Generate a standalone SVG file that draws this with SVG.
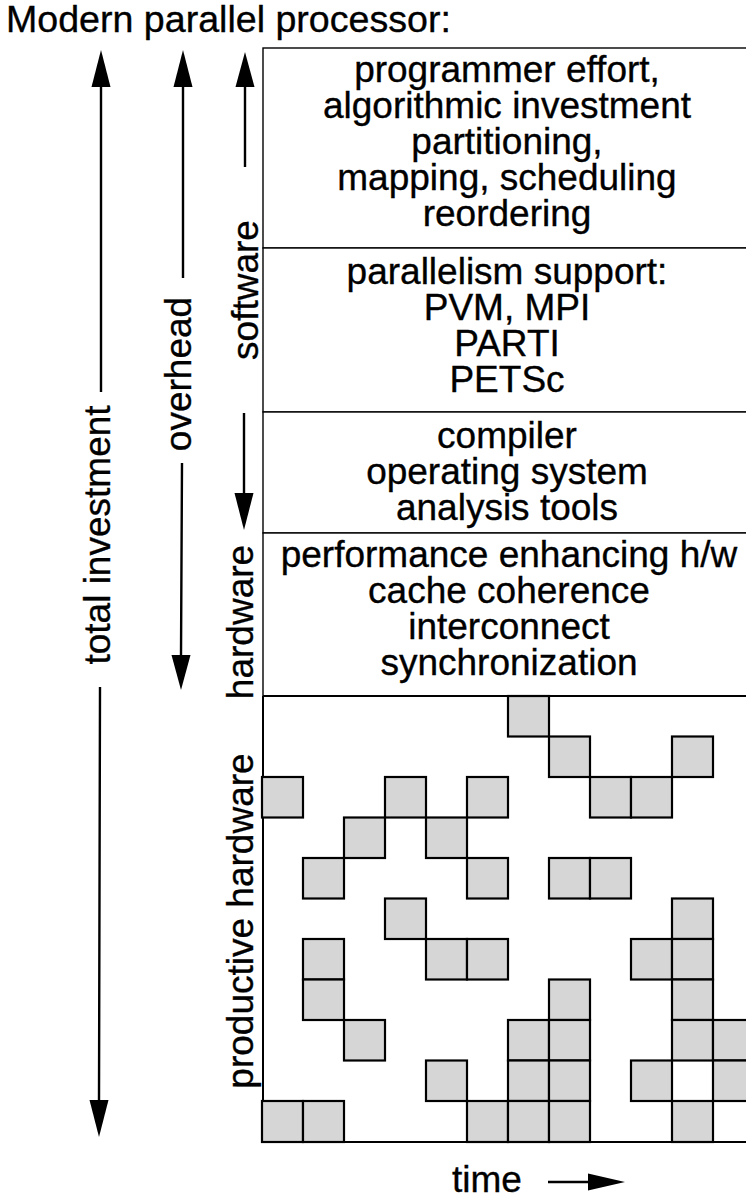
<svg xmlns="http://www.w3.org/2000/svg" width="746" height="1197" viewBox="0 0 746 1197">
  <defs>
    <style>
      text { font-family: "Liberation Sans", Arial, Helvetica, sans-serif; font-size: 37px; fill: #000; stroke: #000; stroke-width: 0.35; }
      .c { text-anchor: middle; }
      .box { fill: #fff; stroke: #000; stroke-width: 1.4; }
      .cell { fill: #d6d6d6; stroke: #000; stroke-width: 2.2; }
      .axis { stroke: #000; stroke-width: 2; fill: none; }
      .shaft { stroke: #000; stroke-width: 2.4; fill: none; }
      .head { fill: #000; stroke: none; }
    </style>
  </defs>

  <rect width="746" height="1197" fill="#fff"/>

  <!-- title -->
  <text id="title" x="6" y="32" style="font-size:37.6px">Modern parallel processor:</text>

  <!-- layered cost breakdown -->
  <g id="box-programmer">
    <rect class="box" x="263" y="48" width="500" height="200"/>
    <text class="c" x="507" y="82">programmer effort,</text>
    <text class="c" x="507" y="118">algorithmic investment</text>
    <text class="c" x="507" y="154">partitioning,</text>
    <text class="c" x="507" y="190">mapping, scheduling</text>
    <text class="c" x="507" y="226">reordering</text>
  </g>
  <g id="box-parallelism">
    <rect class="box" x="263" y="248" width="500" height="164"/>
    <text class="c" x="507" y="284">parallelism support:</text>
    <text class="c" x="507" y="320">PVM, MPI</text>
    <text class="c" x="507" y="356">PARTI</text>
    <text class="c" x="507" y="392">PETSc</text>
  </g>
  <g id="box-system">
    <rect class="box" x="263" y="412" width="500" height="121"/>
    <text class="c" x="507" y="448">compiler</text>
    <text class="c" x="507" y="484">operating system</text>
    <text class="c" x="507" y="520">analysis tools</text>
  </g>
  <g id="box-hardware">
    <rect class="box" x="263" y="533" width="500" height="163"/>
    <text class="c" x="509" y="567">performance enhancing h/w</text>
    <text class="c" x="509" y="603">cache coherence</text>
    <text class="c" x="509" y="639">interconnect</text>
    <text class="c" x="509" y="675">synchronization</text>
  </g>

  <!-- productive hardware: busy cells over time -->
  <g id="productive-grid">
    <path class="axis" d="M263 696 L746 696 M263 696 L263 1142 L746 1142"/>
    <g id="cells">
      <!-- row 0 -->
      <rect class="cell" x="508" y="696" width="41" height="40.5"/>
      <!-- row 1 -->
      <rect class="cell" x="549" y="736.5" width="41" height="40.5"/>
      <rect class="cell" x="672" y="736.5" width="41" height="40.5"/>
      <!-- row 2 -->
      <rect class="cell" x="262" y="777" width="41" height="40.5"/>
      <rect class="cell" x="385" y="777" width="41" height="40.5"/>
      <rect class="cell" x="467" y="777" width="41" height="40.5"/>
      <rect class="cell" x="590" y="777" width="41" height="40.5"/>
      <rect class="cell" x="631" y="777" width="41" height="40.5"/>
      <!-- row 3 -->
      <rect class="cell" x="344" y="817.5" width="41" height="40.5"/>
      <rect class="cell" x="426" y="817.5" width="41" height="40.5"/>
      <!-- row 4 -->
      <rect class="cell" x="303" y="858" width="41" height="40.5"/>
      <rect class="cell" x="467" y="858" width="41" height="40.5"/>
      <rect class="cell" x="549" y="858" width="41" height="40.5"/>
      <rect class="cell" x="590" y="858" width="41" height="40.5"/>
      <!-- row 5 -->
      <rect class="cell" x="385" y="898.5" width="41" height="40.5"/>
      <rect class="cell" x="672" y="898.5" width="41" height="40.5"/>
      <!-- row 6 -->
      <rect class="cell" x="303" y="939" width="41" height="40.5"/>
      <rect class="cell" x="426" y="939" width="41" height="40.5"/>
      <rect class="cell" x="467" y="939" width="41" height="40.5"/>
      <rect class="cell" x="631" y="939" width="41" height="40.5"/>
      <rect class="cell" x="672" y="939" width="41" height="40.5"/>
      <!-- row 7 -->
      <rect class="cell" x="303" y="979.5" width="41" height="40.5"/>
      <rect class="cell" x="549" y="979.5" width="41" height="40.5"/>
      <rect class="cell" x="672" y="979.5" width="41" height="40.5"/>
      <!-- row 8 -->
      <rect class="cell" x="344" y="1020" width="41" height="40.5"/>
      <rect class="cell" x="508" y="1020" width="41" height="40.5"/>
      <rect class="cell" x="549" y="1020" width="41" height="40.5"/>
      <rect class="cell" x="672" y="1020" width="41" height="40.5"/>
      <rect class="cell" x="713" y="1020" width="41" height="40.5"/>
      <!-- row 9 -->
      <rect class="cell" x="426" y="1060.5" width="41" height="40.5"/>
      <rect class="cell" x="508" y="1060.5" width="41" height="40.5"/>
      <rect class="cell" x="549" y="1060.5" width="41" height="40.5"/>
      <rect class="cell" x="631" y="1060.5" width="41" height="40.5"/>
      <rect class="cell" x="713" y="1060.5" width="41" height="40.5"/>
      <!-- row 10 -->
      <rect class="cell" x="262" y="1101" width="41" height="41"/>
      <rect class="cell" x="303" y="1101" width="41" height="41"/>
      <rect class="cell" x="467" y="1101" width="41" height="41"/>
      <rect class="cell" x="508" y="1101" width="41" height="41"/>
      <rect class="cell" x="549" y="1101" width="41" height="41"/>
      <rect class="cell" x="672" y="1101" width="41" height="41"/>
    </g>
  </g>

  <!-- vertical span labels -->
  <g id="label-total"><text class="c" transform="translate(110 535) rotate(-90)">total investment</text></g>
  <g id="label-overhead"><text class="c" transform="translate(191 374) rotate(-90)">overhead</text></g>
  <g id="label-software"><text class="c" transform="translate(258 290) rotate(-90)">software</text></g>
  <g id="label-hardware"><text class="c" transform="translate(253 622) rotate(-90)">hardware</text></g>
  <g id="label-productive"><text class="c" transform="translate(253 921) rotate(-90)">productive hardware</text></g>
  <g id="label-time"><text x="452" y="1192">time</text></g>

  <!-- span arrows -->
  <g id="connectors">
    <!-- total investment -->
    <path class="shaft" d="M101 86 L101 392 M100 687 L99 1101"/>
    <polygon class="head" points="101,50 91.5,87 110.5,87"/>
    <polygon class="head" points="99,1137 89.5,1100 108.5,1100"/>
    <!-- overhead -->
    <path class="shaft" d="M183 86 L183 278 M182 463 L181 656"/>
    <polygon class="head" points="183,50 173.5,87 192.5,87"/>
    <polygon class="head" points="181,690 171.5,655 190.5,655"/>
    <!-- software / hardware -->
    <path class="shaft" d="M245 86 L245 167 M244 413 L244 494"/>
    <polygon class="head" points="245,52 235.5,87 254.5,87"/>
    <polygon class="head" points="244,530 234.5,493 253.5,493"/>
    <!-- time -->
    <path class="shaft" d="M548 1182 L592 1182"/>
    <polygon class="head" points="625,1182 588,1173.5 588,1190.5"/>
  </g>
</svg>
